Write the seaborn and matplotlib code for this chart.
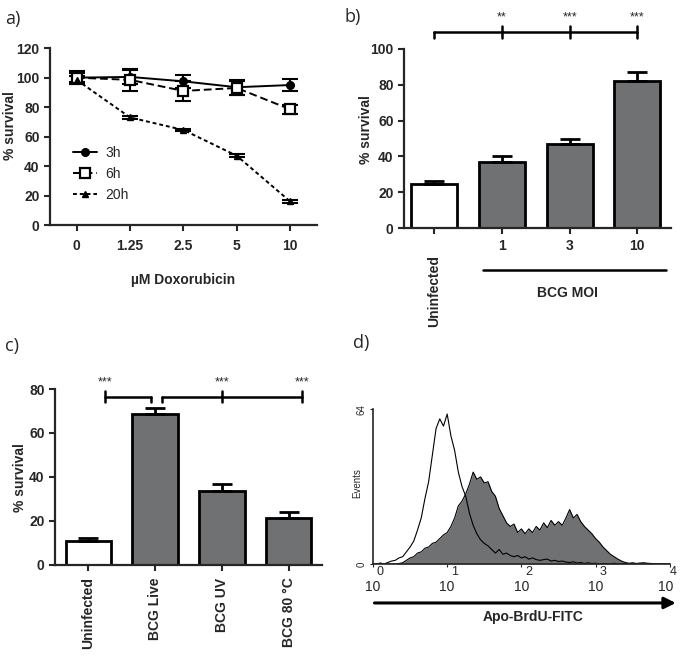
import numpy as np
import pandas as pd
import matplotlib
matplotlib.use('Agg')
import matplotlib.pyplot as plt
import seaborn as sns

# a) survival after doxorubicin
dox_labels = ['0', '1.25', '2.5', '5', '10']
surv_3h = [100, 100.5, 97.5, 93.5, 95]
err_3h = [3, 5, 4.5, 5, 4]
surv_6h = [100, 98.5, 91, 93, 78.5]
err_6h = [4.5, 7.5, 6.5, 5, 3]
surv_20h = [98.5, 73, 64.5, 47, 16]
err_20h = [2.5, 1, 1, 1, 1]

# b) BCG MOI
moi_labels = ['Uninfected', '1', '3', '10']
moi_surv = [24.5, 37, 47, 82]
moi_err = [1.5, 3, 2.5, 5]
moi_stars = ['**', '***', '***']

# c) BCG preparations
bcg_labels = ['Uninfected', 'BCG Live', 'BCG UV', 'BCG 80 °C']
bcg_surv = [11, 68.5, 33.5, 21.5]
bcg_err = [1.3, 3, 3.5, 2.5]

# d) Apo-BrdU histograms (log10 decades, events)
log_fitc = np.linspace(0, 4, 81)
events_ctrl = [0, 0, 0.4, 0, 0.6, 1.2, 1.5, 2.5, 3, 5,
               7, 9.5, 14, 19, 27, 34, 45, 56, 60, 57,
               62, 53, 47, 38, 32, 28, 21, 16, 12.5, 10,
               8.5, 7.5, 6, 4.5, 6, 4, 4.5, 3.5, 3, 3.5,
               2.5, 3, 2, 2.5, 1.8, 1.5, 1.8, 2, 1.2, 1.5,
               1, 1.2, 0.8, 0.6, 0.9, 0.4, 0.6, 0.2, 0.5, 0.2,
               0.3, 0, 0.2, 0, 0, 0.3, 0, 0, 0.2, 0,
               0, 0, 0, 0, 0, 0, 0, 0, 0, 0, 0]
events_bcg = [0, 0, 0, 0, 0, 0, 0, 0.2, 0.5, 1.5,
              2.5, 3, 4.5, 5, 6.5, 7, 8.5, 9, 10.5, 12,
              13, 15.5, 19, 24, 26, 29, 33, 38, 35, 36,
              33.5, 34, 30, 28, 23, 20, 17, 15.5, 16.5, 13,
              14.5, 12.5, 14.5, 13, 15.5, 14, 17, 15, 18, 16,
              17.5, 16, 19, 22.5, 19, 20.5, 17.5, 15.5, 14, 12.5,
              10.5, 9, 7, 5.5, 4, 3, 2, 1.2, 0.6, 0.3,
              0.5, 0.2, 0.4, 0.5, 0.3, 0.2, 0, 0, 0, 0, 0]
decades = [0, 1, 2, 3, 4]

GRAY = '#707173'
FS = 10

sns.set_style('ticks')
plt.rcParams['font.family'] = ['Liberation Sans', 'DejaVu Sans']
plt.rcParams['font.weight'] = 'bold'
plt.rcParams['axes.linewidth'] = 1.6
plt.rcParams['xtick.major.width'] = 1.5
plt.rcParams['ytick.major.width'] = 1.5
plt.rcParams['xtick.major.size'] = 4
plt.rcParams['ytick.major.size'] = 4
plt.rcParams['xtick.labelsize'] = FS
plt.rcParams['ytick.labelsize'] = FS

fig = plt.figure(figsize=(6.8, 6.6), dpi=100)
ax_a = fig.add_axes([0.0735, 0.659, 0.3925, 0.268])
ax_b = fig.add_axes([0.594, 0.6545, 0.393, 0.2715])
ax_c = fig.add_axes([0.081, 0.144, 0.3925, 0.2666])
ax_d = fig.add_axes([0.5485, 0.1455, 0.4365, 0.2345])

letter_kw = dict(fontsize=13, fontweight='normal', family=['Open Sans', 'DejaVu Sans'])
fig.text(0.008, 0.971, 'a)', va='center', **letter_kw)
fig.text(0.507, 0.974, 'b)', va='center', **letter_kw)
fig.text(0.008, 0.476, 'c)', va='center', **letter_kw)
fig.text(0.519, 0.481, 'd)', va='center', **letter_kw)

# ---- a) ----
xpos = np.arange(len(dox_labels))
series = [
    ('3h', surv_3h, err_3h, dict(marker='o', ms=5.5, mfc='k', ls='-')),
    ('6h', surv_6h, err_6h, dict(marker='s', ms=6.5, mfc='white', mew=1.6, ls=(0, (4, 2)))),
    ('20h', surv_20h, err_20h, dict(marker='^', ms=5, mfc='k', ls=(0, (2, 1.5)))),
]
for name, vals, errs, st in series:
    ax_a.errorbar(xpos, vals, yerr=errs, fmt='none', ecolor='k', elinewidth=1.5,
                  capsize=6, capthick=1.5, zorder=2)
    sns.lineplot(x=xpos, y=vals, ax=ax_a, color='k', lw=1.4, marker=st['marker'],
                 markersize=st['ms'], markerfacecolor=st['mfc'], markeredgecolor='k',
                 markeredgewidth=st.get('mew', 1), linestyle=st['ls'], label=name, zorder=3)
ax_a.set_xlim(-0.5, 4.5)
ax_a.set_ylim(0, 120)
ax_a.set_yticks(range(0, 121, 20))
ax_a.set_xticks(xpos)
ax_a.set_xticklabels(dox_labels)
ax_a.tick_params(axis='x', pad=6)
ax_a.set_xlabel('µM Doxorubicin', fontsize=FS, fontweight='bold', va='top')
ax_a.xaxis.set_label_coords(0.5, -0.27)
ax_a.set_ylabel('% survival', fontsize=FS, fontweight='bold')
ax_a.yaxis.set_label_coords(-0.125, 0.565)
ax_a.legend(loc='lower left', bbox_to_anchor=(0.04, 0.06), frameon=False,
            prop=dict(size=10, weight='normal'), handlelength=1.7, labelspacing=0.5,
            handletextpad=0.6)
sns.despine(ax=ax_a)

# ---- b) ----
df_b = pd.DataFrame({'group': moi_labels, 'survival': moi_surv})
sns.barplot(data=df_b, x='group', y='survival', hue='group', order=moi_labels,
            palette=['white', GRAY, GRAY, GRAY], edgecolor='black', linewidth=2,
            width=0.68, legend=False, errorbar=None, ax=ax_b)
ax_b.errorbar(range(len(moi_labels)), moi_surv, yerr=[np.zeros(4), moi_err], fmt='none',
              ecolor='k', elinewidth=2, capsize=7, capthick=2)
ax_b.set_xlim(-0.45, 3.5)
ax_b.set_ylim(0, 100)
ax_b.set_yticks(range(0, 101, 20))
ax_b.set_xticks(range(len(moi_labels)))
ax_b.set_xticklabels([''] + moi_labels[1:])
ax_b.tick_params(axis='x', pad=4)
ax_b.set_xlabel('')
ax_b.set_ylabel('% survival', fontsize=FS, fontweight='bold')
ax_b.yaxis.set_label_coords(-0.116, 0.547)
tb = ax_b.get_xaxis_transform()
ax_b.text(0, -0.148, 'Uninfected', rotation=90, ha='center', va='top', fontsize=FS,
          fontweight='bold', transform=tb)
ax_b.plot([0.72, 3.42], [-0.235, -0.235], color='k', lw=1.8, transform=tb, clip_on=False)
ax_b.text(1.97, -0.363, 'BCG MOI', ha='center', va='center', fontsize=FS,
          fontweight='bold', transform=tb)
# significance bracket
ax_b.plot([0, 3], [109.5, 109.5], color='k', lw=1.8, clip_on=False)
ax_b.plot([0, 0], [106, 109.5], color='k', lw=1.8, clip_on=False)
for i, s in enumerate(moi_stars, start=1):
    ax_b.plot([i, i], [106, 112.5], color='k', lw=1.8, clip_on=False)
    ax_b.text(i, 117.5, s, ha='center', va='center', fontsize=9, fontweight='normal')
sns.despine(ax=ax_b)

# ---- c) ----
df_c = pd.DataFrame({'group': bcg_labels, 'survival': bcg_surv})
sns.barplot(data=df_c, x='group', y='survival', hue='group', order=bcg_labels,
            palette=['white', GRAY, GRAY, GRAY], edgecolor='black', linewidth=2,
            width=0.68, legend=False, errorbar=None, ax=ax_c)
ax_c.errorbar(range(len(bcg_labels)), bcg_surv, yerr=[np.zeros(4), bcg_err], fmt='none',
              ecolor='k', elinewidth=2, capsize=7, capthick=2)
ax_c.set_xlim(-0.5, 3.5)
ax_c.set_ylim(0, 80)
ax_c.set_yticks(range(0, 81, 20))
ax_c.set_xticks(range(len(bcg_labels)))
ax_c.set_xticklabels(bcg_labels, rotation=90, ha='center', va='top')
ax_c.tick_params(axis='x', pad=5)
ax_c.set_xlabel('')
ax_c.set_ylabel('% survival', fontsize=FS, fontweight='bold')
ax_c.yaxis.set_label_coords(-0.105, 0.494)
# brackets
ax_c.plot([0.25, 0.94], [76.4, 76.4], color='k', lw=1.8, clip_on=False)
ax_c.plot([0.25, 0.25], [74, 79.2], color='k', lw=1.8, clip_on=False)
ax_c.plot([0.94, 0.94], [74, 76.4], color='k', lw=1.8, clip_on=False)
ax_c.plot([1.1, 3.2], [76.4, 76.4], color='k', lw=1.8, clip_on=False)
ax_c.plot([1.1, 1.1], [74, 76.4], color='k', lw=1.8, clip_on=False)
for xb in [2.0, 3.2]:
    ax_c.plot([xb, xb], [74, 79.2], color='k', lw=1.8, clip_on=False)
for xb in [0.25, 2.0, 3.2]:
    ax_c.text(xb, 83, '***', ha='center', va='center', fontsize=9, fontweight='normal')
sns.despine(ax=ax_c)

# ---- d) ----
ax_d.fill_between(log_fitc, events_bcg, color=GRAY, lw=0)
ax_d.plot(log_fitc, events_bcg, color='k', lw=0.8)
ax_d.plot(log_fitc, events_ctrl, color='k', lw=0.8)
ax_d.set_xlim(0, 4)
ax_d.set_ylim(0, 64)
for sp in ['left', 'bottom']:
    ax_d.spines[sp].set_linewidth(1.2)
ax_d.tick_params(width=0.8, length=2.5)
ax_d.set_xticks(decades)
ax_d.set_xticklabels([])
td = ax_d.get_xaxis_transform()
for k in decades:
    base_x = k - 0.06 if k == 4 else k
    ax_d.text(base_x, -0.15, '10', ha='center', va='center', fontsize=FS,
              fontweight='normal', transform=td)
    ax_d.text(base_x + 0.1, -0.05, str(k), ha='center', va='center', fontsize=9,
              fontweight='normal', transform=td)
ax_d.set_yticks([0, 64])
ax_d.set_yticklabels(['0', '64'], rotation=90, va='center', fontsize=7, fontweight='normal')
ax_d.tick_params(axis='y', pad=2)
ax_d.set_ylabel('Events', fontsize=7, fontweight='normal')
ax_d.yaxis.set_label_coords(-0.035, 0.52)
ax_d.annotate('', xy=(1.02, -0.252), xytext=(0.005, -0.252), xycoords='axes fraction',
              arrowprops=dict(arrowstyle='-|>', lw=2.2, color='k', mutation_scale=17,
                              shrinkA=0, shrinkB=0))
ax_d.text(0.539, -0.342, 'Apo-BrdU-FITC', ha='center', va='center', fontsize=FS,
          fontweight='bold', transform=ax_d.transAxes)
sns.despine(ax=ax_d)

fig.savefig('out.png', dpi=100)
